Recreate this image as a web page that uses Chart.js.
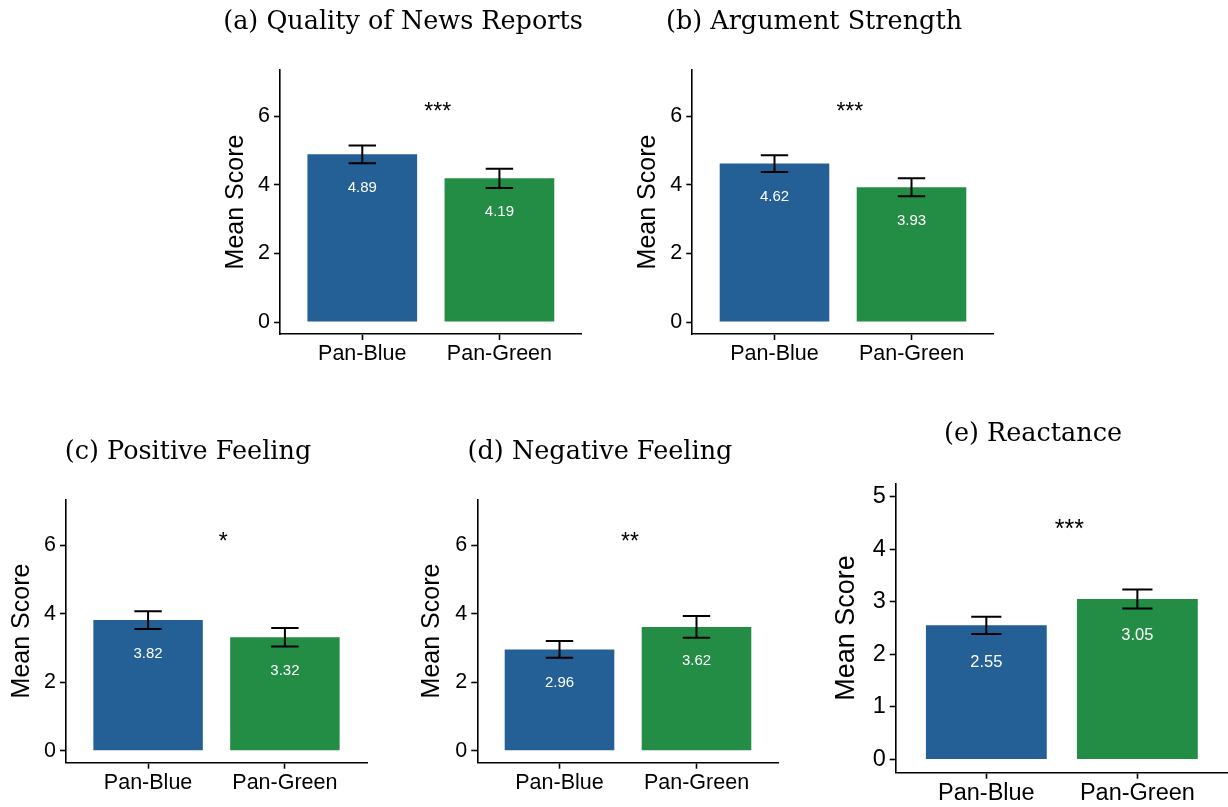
<!DOCTYPE html>
<html>
<head>
<meta charset="utf-8">
<script src="https://cdn.jsdelivr.net/npm/chart.js@4.4.1/dist/chart.umd.min.js"></script>
<style>
  html, body { margin: 0; padding: 0; background: #ffffff; width: 1228px; height: 807px; overflow: hidden; }
  canvas { position: absolute; display: block; }
</style>
</head>
<body>
<canvas id="panelA"></canvas>
<canvas id="panelB"></canvas>
<canvas id="panelC"></canvas>
<canvas id="panelD"></canvas>
<canvas id="panelE"></canvas>
<script>
// ---- data ----
const groups = ['Pan-Blue', 'Pan-Green'];
const groupPositions = [1, 2];

const panelTitles = [
  '(a) Quality of News Reports',
  '(b) Argument Strength',
  '(c) Positive Feeling',
  '(d) Negative Feeling',
  '(e) Reactance'
];

const qualityMeans = [4.89, 4.19];
const qualityErrors = [0.26, 0.28];

const argumentMeans = [4.62, 3.93];
const argumentErrors = [0.245, 0.265];

const positiveMeans = [3.82, 3.32];
const positiveErrors = [0.26, 0.27];

const negativeMeans = [2.96, 3.62];
const negativeErrors = [0.245, 0.32];

const reactanceMeans = [2.55, 3.05];
const reactanceErrors = [0.165, 0.18];

const significanceLabels = ['***', '***', '*', '**', '***'];

const ticksSevenPoint = [0, 2, 4, 6];
const ticksFivePoint = [0, 1, 2, 3, 4, 5];

// ---- styling ----
const barColors = ['#245F95', '#238C45'];
const sansFamily = "'Liberation Sans', Arial, Helvetica, sans-serif";
const serifFamily = "'DejaVu Serif', 'Liberation Serif', serif";
Chart.defaults.font.family = sansFamily;
Chart.defaults.color = '#000000';

// Error bars, value labels, significance stars and panel heading
const panelDecor = {
  id: 'panelDecor',
  afterDatasetsDraw(chart, args, opts) {
    const ctx = chart.ctx;
    const xs = chart.scales.x;
    const ys = chart.scales.y;
    const meta = chart.getDatasetMeta(0);
    const capHalf = Math.abs(xs.getPixelForValue(1 + opts.capHalfWidth) - xs.getPixelForValue(1));
    ctx.save();
    // error bars
    ctx.strokeStyle = '#000000';
    ctx.lineWidth = opts.errorLineWidth;
    ctx.lineCap = 'butt';
    meta.data.forEach((bar, i) => {
      const m = opts.means[i];
      const e = opts.errors[i];
      const yTop = ys.getPixelForValue(m + e);
      const yBot = ys.getPixelForValue(m - e);
      const x = bar.x;
      ctx.beginPath();
      ctx.moveTo(x, yTop); ctx.lineTo(x, yBot);
      ctx.moveTo(x - capHalf, yTop); ctx.lineTo(x + capHalf, yTop);
      ctx.moveTo(x - capHalf, yBot); ctx.lineTo(x + capHalf, yBot);
      ctx.stroke();
    });
    // value labels inside bars
    ctx.fillStyle = '#ffffff';
    ctx.font = opts.valueFontSize + 'px ' + sansFamily;
    ctx.textAlign = 'center';
    ctx.textBaseline = 'middle';
    meta.data.forEach((bar, i) => {
      const m = opts.means[i];
      ctx.fillText(m.toFixed(2), bar.x, ys.getPixelForValue(m - opts.labelDrop));
    });
    // significance stars
    ctx.fillStyle = '#000000';
    ctx.font = opts.starFontSize + 'px ' + sansFamily;
    ctx.textBaseline = 'alphabetic';
    ctx.fillText(opts.stars, xs.getPixelForValue(opts.starX),
                 ys.getPixelForValue(opts.starY) + 0.58 * opts.starFontSize);
    // heading
    ctx.font = opts.headingSize + 'px ' + serifFamily;
    ctx.textBaseline = 'middle';
    ctx.fillText(opts.heading, opts.headingX, opts.headingY);
    ctx.restore();
  }
};

// canvas rectangle, plot-area edges and text placement for each panel
const layouts = [
  { id: 'panelA', cx: 200, cy: 0,   cw: 392, ch: 380, l: 280,   r: 581.7, t: 70,    b: 334,   yTitleX: 236.5, hx: 403,  hy: 22,  big: false },
  { id: 'panelB', cx: 612, cy: 0,   cw: 392, ch: 380, l: 692.3, r: 993.7, t: 70,    b: 334,   yTitleX: 648.5, hx: 814,  hy: 22,  big: false },
  { id: 'panelC', cx: 0,   cy: 410, cw: 380, ch: 397, l: 66,    r: 367,   t: 499.3, b: 762.7, yTitleX: 21.7,  hx: 188,  hy: 452, big: false },
  { id: 'panelD', cx: 400, cy: 410, cw: 390, ch: 397, l: 477.3, r: 778.7, t: 499.3, b: 762.7, yTitleX: 432.5, hx: 600,  hy: 452, big: false },
  { id: 'panelE', cx: 820, cy: 400, cw: 408, ch: 407, l: 895.7, r: 1228,  t: 483.3, b: 772.7, yTitleX: 847,   hx: 1033, hy: 434, big: true }
];

const panelMeans = [qualityMeans, argumentMeans, positiveMeans, negativeMeans, reactanceMeans];
const panelErrors = [qualityErrors, argumentErrors, positiveErrors, negativeErrors, reactanceErrors];
const starOffsets = [0.05, 0.05, 0.05, 0.015, 0.05];

layouts.forEach((L, k) => {
  const canvas = document.getElementById(L.id);
  canvas.width = L.cw;
  canvas.height = L.ch;
  canvas.style.left = L.cx + 'px';
  canvas.style.top = L.cy + 'px';

  const topValue = L.big ? 5 : 7;
  const pad = topValue * 0.05;
  const tickSize = L.big ? 23.5 : 21.5;
  const axisTitleSize = L.big ? 27 : 25;
  const lineW = 1.6;

  const gridStyle = {
    display: true, drawOnChartArea: false, drawTicks: true,
    tickLength: 6, tickWidth: lineW, tickColor: '#000000', offset: false
  };
  const borderStyle = { display: true, color: '#000000', width: lineW };

  new Chart(canvas, {
    type: 'bar',
    data: {
      datasets: [{
        data: panelMeans[k].map((v, i) => ({ x: groupPositions[i], y: v })),
        backgroundColor: barColors,
        borderWidth: 0,
        categoryPercentage: 0.8,
        barPercentage: 1.0
      }]
    },
    options: {
      responsive: false,
      animation: false,
      events: [],
      layout: { padding: { left: 0, right: L.cx + L.cw - L.r, top: L.t - L.cy, bottom: 0 } },
      plugins: {
        legend: { display: false },
        tooltip: { enabled: false },
        title: { display: false },
        panelDecor: {
          means: panelMeans[k],
          errors: panelErrors[k],
          capHalfWidth: 0.1,
          errorLineWidth: 2,
          valueFontSize: L.big ? 16.5 : 15,
          labelDrop: topValue * 0.14,
          stars: significanceLabels[k],
          starFontSize: L.big ? 25 : 23,
          starX: 1.5 + starOffsets[k],
          starY: topValue * 0.9,
          heading: panelTitles[k],
          headingSize: 25.5,
          headingX: L.hx - L.cx,
          headingY: L.hy - L.cy
        }
      },
      scales: {
        x: {
          type: 'linear',
          min: 0.4,
          max: 2.6,
          offset: false,
          afterBuildTicks: s => { s.ticks = groupPositions.map(v => ({ value: v })); },
          afterFit: s => { s.height = L.cy + L.ch - L.b; },
          ticks: {
            callback: v => groups[groupPositions.indexOf(v)] || '',
            font: { size: tickSize },
            color: '#000000',
            padding: 1,
            autoSkip: false,
            maxRotation: 0
          },
          grid: gridStyle,
          border: borderStyle
        },
        y: {
          type: 'linear',
          min: -pad,
          max: topValue + pad,
          afterBuildTicks: s => { s.ticks = (L.big ? ticksFivePoint : ticksSevenPoint).map(v => ({ value: v })); },
          afterFit: s => { s.width = L.l - L.cx; },
          ticks: { font: { size: tickSize }, color: '#000000', padding: 4 },
          grid: gridStyle,
          border: borderStyle,
          title: {
            display: true,
            text: 'Mean Score',
            font: { size: axisTitleSize },
            color: '#000000',
            padding: { top: L.yTitleX - L.cx - axisTitleSize * 0.6, bottom: 0 }
          }
        }
      }
    },
    plugins: [panelDecor]
  });
});
</script>
</body>
</html>
